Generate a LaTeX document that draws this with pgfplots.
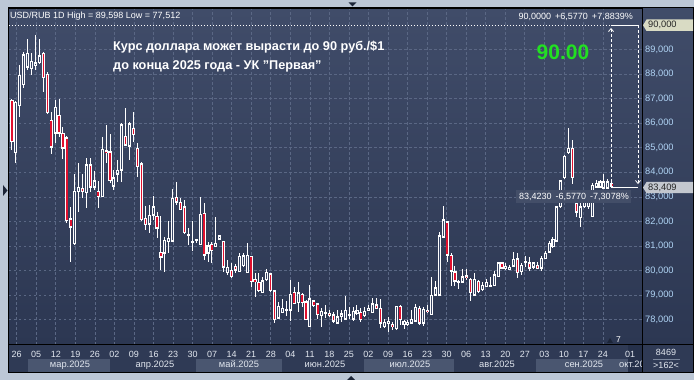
\documentclass[border=0pt]{standalone}
\usepackage{fontspec}
\setmainfont{Liberation Sans}
\usepackage{pgfplots}
\pgfplotsset{compat=1.18}
\usepackage{pgfplotstable}
\usetikzlibrary{arrows.meta}
\definecolor{frame}{HTML}{BCC7D6}
\definecolor{bgtop}{HTML}{404C69}
\definecolor{bgbot}{HTML}{2C3752}
\definecolor{band}{HTML}{2F3A55}
\definecolor{bandbox}{HTML}{4A5670}
\definecolor{futbox}{HTML}{25304A}
\definecolor{gridc}{HTML}{5A6784}
\definecolor{candred}{HTML}{E0102E}
\definecolor{hollow}{HTML}{3A4766}
\definecolor{ylab}{HTML}{B0D4F5}
\definecolor{dlab}{HTML}{E2E7EF}
\definecolor{green90}{HTML}{22E022}
\definecolor{tri}{HTML}{1C2538}
\definecolor{sepline}{HTML}{7A869C}
\definecolor{box90}{HTML}{D9DBC4}
\definecolor{boxlast}{HTML}{C4C8CF}
\definecolor{boxmeas}{HTML}{434E68}

\pgfplotstableread{
j o h l c
0 86.92 86.98 84.91 85.27
1 84.79 86.90 84.38 86.86
2 86.71 88.37 86.25 87.96
3 87.56 88.90 87.43 88.78
4 88.29 89.43 88.17 88.86
5 88.24 88.86 87.96 88.51
6 88.37 89.60 88.17 88.46
7 88.46 89.43 88.41 88.74
8 88.85 88.91 87.28 87.87
9 88.00 88.09 86.37 86.42
10 86.13 86.46 84.75 85.03
11 85.60 86.94 85.19 86.66
12 86.33 86.98 85.44 85.60
13 85.60 85.85 84.54 84.99
14 85.40 85.48 81.94 82.02
15 82.10 82.59 80.35 81.77
16 81.11 83.92 81.02 83.21
17 83.20 84.38 82.38 83.40
18 83.36 83.93 82.95 83.20
19 83.16 84.58 82.55 84.30
20 84.30 84.58 83.20 83.40
21 83.40 84.05 83.28 83.65
22 83.24 83.65 82.55 83.00
23 83.00 85.44 82.98 84.95
24 84.87 85.93 84.38 84.79
25 84.83 85.56 83.56 83.65
26 83.44 84.09 83.28 83.77
27 83.93 84.50 83.60 84.09
28 84.09 86.01 83.60 85.93
29 85.48 86.62 85.09 85.11
30 85.07 86.05 84.50 85.97
31 85.80 86.46 85.23 85.52
32 84.99 85.19 83.81 84.22
33 84.34 84.42 82.00 82.06
34 82.14 82.63 81.65 81.89
35 81.89 82.67 81.53 82.26
36 82.26 83.03 82.06 82.59
37 82.22 82.38 81.32 81.73
38 80.75 82.22 80.02 80.55
39 80.71 81.36 79.94 81.24
40 81.20 82.02 80.71 81.32
41 81.20 83.32 81.20 82.95
42 82.99 83.61 82.67 82.79
43 82.79 82.95 82.46 82.50
44 82.59 82.87 81.49 81.53
45 81.47 81.73 81.04 81.43
46 81.14 82.02 80.79 81.18
47 81.22 81.28 81.12 81.26
48 81.04 83.00 81.04 82.30
49 82.34 82.75 80.43 80.63
50 80.71 81.16 80.35 81.00
51 81.08 81.16 80.31 80.83
52 80.96 82.18 80.96 81.12
53 81.28 81.45 81.24 81.41
54 81.20 81.20 79.94 80.14
55 79.90 80.43 79.82 80.14
56 80.02 80.31 79.70 79.74
57 80.18 80.27 79.90 80.02
58 79.94 80.71 79.94 80.59
59 80.19 80.71 80.15 80.60
60 79.90 81.11 79.90 80.63
61 80.56 80.60 79.32 79.54
62 79.62 79.90 78.91 79.54
63 79.50 79.90 79.13 79.17
64 79.09 79.74 79.09 79.58
65 79.62 80.06 79.58 79.94
66 79.86 79.90 79.13 79.17
67 79.17 79.17 77.86 78.02
68 78.06 78.72 78.02 78.55
69 78.27 78.84 78.27 78.47
70 78.39 78.76 78.15 78.43
71 78.39 79.61 77.94 79.04
72 79.09 79.33 78.64 78.64
73 78.68 79.53 78.31 79.09
74 79.04 79.09 78.51 78.68
75 78.72 78.80 78.02 78.02
76 77.70 79.41 77.70 78.84
77 78.76 78.80 78.51 78.57
78 78.64 78.68 78.02 78.19
79 78.15 78.47 77.70 78.35
80 78.25 78.60 78.06 78.29
81 78.27 78.39 78.10 78.15
82 78.19 78.31 77.86 77.94
83 77.86 78.39 77.86 78.11
84 78.11 78.39 77.90 78.23
85 78.02 78.96 78.02 78.39
86 78.15 78.51 78.02 78.19
87 78.02 78.51 77.94 78.35
88 78.23 78.60 78.19 78.39
89 78.31 78.47 77.90 78.02
90 78.15 78.51 78.11 78.35
91 78.39 78.60 78.35 78.47
92 78.27 78.88 78.27 78.64
93 78.60 78.88 78.43 78.47
94 78.47 78.84 77.66 77.86
95 77.70 78.02 77.66 77.90
96 77.86 78.11 77.51 77.94
97 77.82 77.90 77.58 77.70
98 77.62 78.55 77.58 78.55
99 78.55 78.60 77.78 78.02
100 77.82 77.98 77.62 77.94
101 77.82 77.98 77.74 77.90
102 77.86 78.39 77.82 78.02
103 77.94 78.64 77.94 78.51
104 78.47 78.55 77.78 77.86
105 77.86 78.51 77.74 78.43
106 78.39 78.60 78.27 78.31
107 78.19 79.74 78.19 79.00
108 79.00 79.57 78.96 79.29
109 79.00 81.57 79.00 81.41
110 81.36 82.63 81.36 82.06
111 81.98 82.02 80.35 80.63
112 80.63 80.71 79.37 79.98
113 79.94 80.18 79.37 79.57
114 79.55 79.61 79.25 79.51
115 79.53 80.06 79.49 79.74
116 79.78 80.06 79.61 79.70
117 79.65 79.70 78.76 79.09
118 79.00 79.90 79.00 79.65
119 79.57 79.61 79.09 79.13
120 79.21 79.53 79.17 79.41
121 79.33 79.65 79.33 79.53
122 79.35 79.74 79.33 79.39
123 79.37 79.98 79.37 79.82
124 79.74 80.35 79.74 80.31
125 80.31 80.35 80.06 80.10
126 80.10 80.31 80.02 80.18
127 80.06 80.22 80.02 80.14
128 80.18 80.75 80.18 80.47
129 80.47 80.71 79.70 79.90
130 79.94 80.31 79.82 80.22
131 80.33 80.59 80.14 80.37
132 80.31 80.55 79.98 80.10
133 80.14 80.35 80.06 80.31
134 80.22 80.35 80.06 80.10
135 80.10 80.59 79.98 80.51
136 80.47 80.79 80.47 80.71
137 80.75 81.20 80.71 81.12
138 80.96 81.36 80.92 81.28
139 81.20 82.63 81.16 82.59
140 82.59 83.69 82.55 83.65
141 83.77 84.70 83.73 84.66
142 84.79 85.80 84.75 84.99
143 84.99 85.32 83.52 83.77
144 82.75 83.08 82.18 82.38
145 82.14 82.79 81.77 82.59
146 82.59 83.00 82.55 82.83
147 82.59 83.00 82.50 82.87
148 82.18 83.56 82.18 83.48
149 83.40 83.69 83.36 83.56
150 83.40 83.69 83.36 83.61
151 83.36 83.93 83.36 83.61
152 83.36 83.73 83.32 83.61
153 83.55 83.61 83.40 83.41
}\candles

\pgfplotsset{
  candlebar/.style n args={2}{draw=none, mark=none, forget plot,
    error bars/.cd, y dir=both, y explicit, error mark=none,
    error bar style={draw=#1, draw opacity=1, solid, line width=#2}},
}

\begin{document}
\begin{tikzpicture}[x=1pt,y=1pt]
\useasboundingbox (0,0) rectangle (694,380);
\fill[frame] (0,0) rectangle (694,380);
\shade[top color=bgtop, bottom color=bgbot] (8,35) rectangle (694,372);
\fill[band] (8,7) rectangle (694,35);
% month boxes
\fill[bandbox] (28,7.5) rectangle (110,21);
\fill[bandbox] (196,7.5) rectangle (282,21);
\fill[bandbox] (364,7.5) rectangle (454,21);
\fill[bandbox] (536,7.5) rectangle (628,21);
\fill[futbox] (628,7.5) rectangle (642,35);

\begin{axis}[
  at={(9pt,35pt)}, anchor=south west, scale only axis,
  width=633pt, height=336pt,
  xmin=-0.765, xmax=160.71, ymin=76.966, ymax=90.652,
  clip mode=individual,
  axis line style={black, line width=1pt},
  major tick length=0pt,
  grid=major,
  major grid style={gridc, dash pattern=on 2.5pt off 2.5pt, line width=0.7pt},
  xtick={1.20,6.18,11.17,16.15,21.14,26.12,31.11,36.10,41.08,46.07,51.05,56.04,61.02,66.01,70.99,75.98,80.96,85.95,90.93,95.92,100.90,105.89,110.87,115.86,120.84,125.83,130.81,135.80,140.78,145.77,150.75},
  xticklabels={26,05,12,19,26,02,09,16,23,30,07,14,21,28,04,11,18,25,02,09,16,23,30,06,13,20,27,03,10,17,24},
  extra x ticks={157.65},
  extra x tick labels={01},
  extra x tick style={grid=none},
  xticklabel style={anchor=base, yshift=-12.3pt, inner sep=0pt, text=dlab, font=\fontsize{9}{10}\selectfont},
  ytick={78,79,80,81,82,83,84,85,86,87,88,89},
  yticklabels={{78,000},{79,000},{80,000},{81,000},{82,000},{83,000},{84,000},{85,000},{86,000},{87,000},{88,000},{89,000}},
  yticklabel pos=right,
  yticklabel style={anchor=west, inner sep=0pt, xshift=3pt, text=ylab, font=\fontsize{9.3}{10}\selectfont},
]
% wicks
\addplot[candlebar={white}{1pt}]
  table[x=j, y expr={(\thisrow{h}+\thisrow{l})/2}, y error expr={(\thisrow{h}-\thisrow{l})/2}] {\candles};
% body outline
\addplot[candlebar={white}{3.1pt}]
  table[x=j, y expr={(\thisrow{o}+\thisrow{c})/2}, y error expr={abs(\thisrow{o}-\thisrow{c})/2+0.02}] {\candles};
% red fill for falling candles
\addplot[candlebar={candred}{1.5pt}]
  table[x=j, y expr={(\thisrow{o}+\thisrow{c})/2}, y error expr={ifthenelse(\thisrow{o}>\thisrow{c}, max(abs(\thisrow{o}-\thisrow{c})/2-0.025,0), 0)}] {\candles};
% hollow fill for rising candles
\addplot[candlebar={hollow}{0.9pt}]
  table[x=j, y expr={(\thisrow{o}+\thisrow{c})/2}, y error expr={ifthenelse(\thisrow{o}<\thisrow{c}, max(abs(\thisrow{o}-\thisrow{c})/2-0.03,0), 0)}] {\candles};
% 90 level and measure tool
\addplot[white, line width=0.8pt, dash pattern=on 1.5pt off 1.5pt, forget plot] coordinates {(-0.8,90) (152.81,90)};
\addplot[white, line width=0.9pt, forget plot] coordinates {(152.81,90) (159.69,90)};
\addplot[white, line width=0.9pt, forget plot] coordinates {(152.9,83.40) (159.69,83.40)};
\addplot[white, line width=0.8pt, dash pattern=on 3pt off 2pt, forget plot, -{Straight Barb[length=3pt,width=5pt]}] coordinates {(152.81,83.40) (152.81,89.88)};
\addplot[white, line width=0.8pt, dash pattern=on 3pt off 2pt, forget plot, -{Straight Barb[length=3pt,width=5pt]}] coordinates {(159.69,90) (159.69,83.52)};
\end{axis}

% separators
\draw[black, line width=1pt] (9,35) -- (694,35);
\draw[black, line width=1pt] (642,7) -- (642,372);
\draw[black, line width=1pt] (8,7) rectangle (693.5,372);

% month labels
\begin{scope}[every node/.style={anchor=base, inner sep=0pt, text=dlab, font=\fontsize{9.3}{10}\selectfont}]
\node at (70,12.3) {мар.2025};
\node at (155,12.3) {апр.2025};
\node at (239,12.3) {май.2025};
\node at (325,12.3) {июн.2025};
\node at (410,12.3) {июл.2025};
\node at (497,12.3) {авг.2025};
\node at (584,12.3) {сен.2025};
\end{scope}
\begin{scope}
\clip (600,7) rectangle (641.5,30);
\node[anchor=base west, inner sep=0pt, text=dlab, font=\fontsize{9.3}{10}\selectfont] at (619,12.3) {окт.2025};
\end{scope}

% bottom right info
\node[anchor=base, inner sep=0pt, text=dlab, font=\fontsize{9}{10}\selectfont] at (666,24) {8469};
\draw[sepline, line width=0.6pt] (653,20.5) -- (680,20.5);
\node[anchor=base, inner sep=0pt, text=dlab, font=\fontsize{9}{10}\selectfont] at (666,11) {>162<};
\fill[tri] (607,37) -- (613,37) -- (610,42) -- cycle;
\node[anchor=base west, inner sep=0pt, text=white, font=\fontsize{8.5}{10}\selectfont] at (616,37) {7};

% right axis boxes
\fill[box90] (643,354.75) -- (646.5,360.5) -- (693,360.5) -- (693,349) -- (646.5,349) -- cycle;
\node[anchor=west, inner sep=0pt, text=black!85, font=\fontsize{9.3}{10}\selectfont] at (648,354.7) {90,000};
\fill[boxlast] (643,192.4) -- (646.5,198) -- (693,198) -- (693,186.8) -- (646.5,186.8) -- cycle;
\node[anchor=west, inner sep=0pt, text=black!85, font=\fontsize{9.3}{10}\selectfont] at (648,192.4) {83,409};

% texts
\node[anchor=base west, inner sep=0pt, text=white, font=\fontsize{9}{10}\selectfont] at (10,361.5) {USD/RUB 1D High = 89,598 Low = 77,512};
\node[anchor=base east, inner sep=0pt, text=white, font=\fontsize{9}{10}\selectfont] at (633,360) {90,0000\hspace{4pt}+6,5770\hspace{4pt}+7,8839\%};
\fill[boxmeas] (516,177) rectangle (631,190);
\node[anchor=base west, inner sep=0pt, text=white, font=\fontsize{9}{10}\selectfont] at (519,180.5) {83,4230\hspace{4pt}-6,5770\hspace{4pt}-7,3078\%};
\node[anchor=base west, inner sep=0pt, text=white, font=\bfseries\fontsize{12.7}{15}\selectfont] at (113,329.5) {Курс доллара может вырасти до 90 руб./\$1};
\node[anchor=base west, inner sep=0pt, text=white, font=\bfseries\fontsize{12.7}{15}\selectfont] at (113,310.5) {до конца 2025 года - УК "Первая"};
\node[anchor=base, inner sep=0pt, text=green90, font=\bfseries\fontsize{21}{24}\selectfont] at (563,320) {90.00};

% frame markers
\fill[tri] (3,195) -- (7.5,189.5) -- (3,184) -- cycle;
\fill[tri] (348.5,377.5) -- (356.5,377.5) -- (352.5,373.5) -- cycle;
\fill[tri] (347,0) -- (355,0) -- (351,4) -- cycle;
\end{tikzpicture}
\end{document}
